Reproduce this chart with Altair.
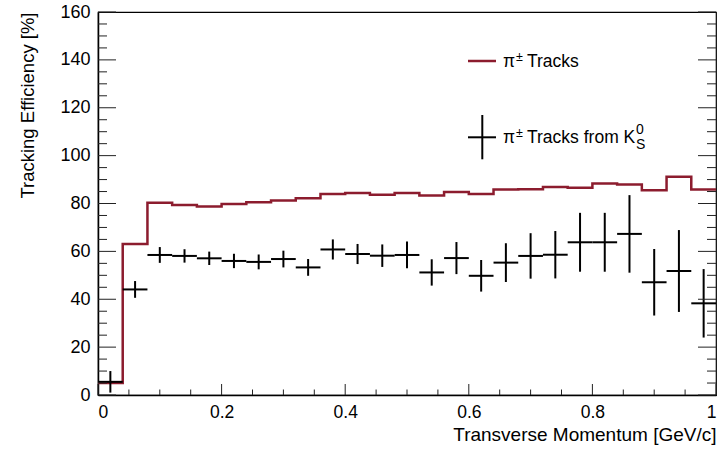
import altair as alt
import pandas as pd

# ---- data ----
bin_lo = [0.00, 0.04, 0.08, 0.12, 0.16, 0.20, 0.24, 0.28, 0.32, 0.36, 0.40, 0.44, 0.48,
          0.52, 0.56, 0.60, 0.64, 0.68, 0.72, 0.76, 0.80, 0.84, 0.88, 0.92, 0.96]
bin_hi = [0.04, 0.08, 0.12, 0.16, 0.20, 0.24, 0.28, 0.32, 0.36, 0.40, 0.44, 0.48, 0.52,
          0.56, 0.60, 0.64, 0.68, 0.72, 0.76, 0.80, 0.84, 0.88, 0.92, 0.96, 1.00]
bin_center = [0.02, 0.06, 0.10, 0.14, 0.18, 0.22, 0.26, 0.30, 0.34, 0.38, 0.42, 0.46, 0.50,
              0.54, 0.58, 0.62, 0.66, 0.70, 0.74, 0.78, 0.82, 0.86, 0.90, 0.94, 0.98]
pion_eff = [5.0, 63.1, 80.3, 79.4, 78.7, 79.8, 80.5, 81.3, 82.2, 84.0, 84.4, 83.7, 84.4,
            83.3, 84.8, 84.0, 85.8, 86.0, 86.9, 86.6, 88.4, 87.9, 85.5, 91.2, 85.9]
k0_eff = [5.5, 44.1, 58.5, 58.1, 57.1, 56.0, 55.6, 56.8, 53.3, 60.8, 58.9, 58.2, 58.5,
          51.2, 57.2, 49.8, 55.3, 58.1, 58.6, 63.8, 63.8, 67.3, 47.1, 51.8, 38.3]
k0_err = [4.5, 3.5, 3.3, 2.8, 2.8, 3.0, 3.1, 3.5, 3.5, 4.2, 4.2, 4.7, 5.6,
          5.5, 6.7, 6.6, 8.1, 9.5, 9.9, 12.3, 12.3, 16.2, 13.9, 17.1, 14.3]

x_major = [0, 0.2, 0.4, 0.6, 0.8, 1.0]
x_minor = [v / 100 for v in range(5, 100, 5) if v % 20 != 0]
y_major = [0, 20, 40, 60, 80, 100, 120, 140, 160]
y_minor = [v for v in range(5, 160, 5) if v % 20 != 0]

W, H = 618, 383
RED = "#8c1c2e"
FONT = "Liberation Sans"

step_df = pd.DataFrame({"x": bin_lo + [bin_hi[-1]], "y": pion_eff + [pion_eff[-1]]})
pts_df = pd.DataFrame({
    "lo": bin_lo, "hi": bin_hi, "c": bin_center, "y": k0_eff,
    "ylo": [max(0.0, a - b) for a, b in zip(k0_eff, k0_err)],
    "yhi": [a + b for a, b in zip(k0_eff, k0_err)],
})

xs = alt.Scale(domain=[0, 1], nice=False, zero=False)
ys = alt.Scale(domain=[0, 160], nice=False, zero=False)

xaxis = alt.Axis(values=x_major, format="~g", tickSize=0, labelPadding=8, grid=False,
                 labelFontSize=17.5, titleFontSize=19,
                 title="Transverse Momentum [GeV/c]", titleAnchor="end", titleAlign="right",
                 titleX=W, titleY=45, titleBaseline="alphabetic")
yaxis = alt.Axis(values=y_major, format="d", tickSize=0, labelPadding=8, grid=False,
                 labelFontSize=18, titleFontSize=18.5,
                 title="Tracking Efficiency [%]", titleAngle=270, titleAnchor="end",
                 titleAlign="right", titleBaseline="alphabetic", titleX=-65, titleY=0)

hist = alt.Chart(step_df).mark_line(interpolate="step-after", color=RED, strokeWidth=2.5,
                                    clip=True).encode(
    x=alt.X("x:Q", scale=xs, axis=xaxis),
    y=alt.Y("y:Q", scale=ys, axis=yaxis),
)

hbar = alt.Chart(pts_df).mark_rule(color="black", strokeWidth=2).encode(
    x=alt.X("lo:Q", scale=xs), x2="hi:Q", y=alt.Y("y:Q", scale=ys))
vbar = alt.Chart(pts_df).mark_rule(color="black", strokeWidth=2).encode(
    x=alt.X("c:Q", scale=xs), y=alt.Y("ylo:Q", scale=ys), y2="yhi:Q")

tick_color = "#222222"
ymaj_df = pd.DataFrame({"v": y_major})
ymin_df = pd.DataFrame({"v": y_minor})
xmaj_df = pd.DataFrame({"v": x_major})
xmin_df = pd.DataFrame({"v": x_minor})

def yt(df, x0, x1):
    return alt.Chart(df).mark_rule(color=tick_color, strokeWidth=1).encode(
        y=alt.Y("v:Q", scale=ys), x=alt.value(x0), x2=alt.value(x1))

def xt(df, y0, y1):
    return alt.Chart(df).mark_rule(color=tick_color, strokeWidth=1).encode(
        x=alt.X("v:Q", scale=xs), y=alt.value(y0), y2=alt.value(y1))

ticks = [
    yt(ymaj_df, 0, 18), yt(ymin_df, 0, 9),
    yt(ymaj_df, W - 18, W), yt(ymin_df, W - 9, W),
    xt(xmaj_df, H - 11, H), xt(xmin_df, H - 5.5, H),
]

one = pd.DataFrame({"a": [0]})

def txt(s, x, y, size=17.5):
    return alt.Chart(one).mark_text(text=s, font=FONT, fontSize=size, color="black",
                                    align="left", baseline="alphabetic").encode(
        x=alt.value(x), y=alt.value(y))

leg = [
    alt.Chart(one).mark_rule(color=RED, strokeWidth=2.5).encode(
        x=alt.value(370), x2=alt.value(398), y=alt.value(49)),
    txt("π", 405, 55.3), txt("±", 418, 48.5, 12.5), txt("Tracks", 429, 55.3),
    alt.Chart(one).mark_rule(color="black", strokeWidth=2).encode(
        x=alt.value(370), x2=alt.value(398), y=alt.value(125.3)),
    alt.Chart(one).mark_rule(color="black", strokeWidth=2).encode(
        x=alt.value(384.3), y=alt.value(103), y2=alt.value(147.3)),
    txt("π", 405, 131.3), txt("±", 418, 124.5, 12.5), txt("Tracks from K", 429, 131.3),
    txt("0", 538, 122, 14), txt("S", 538, 136.5, 14),
]

chart = alt.layer(hist, hbar, vbar, *ticks, *leg).properties(
    width=W, height=H,
    padding={"left": 98, "top": 12, "right": 4, "bottom": 55},
    autosize=alt.AutoSizeParams(type="none"),
).configure_view(stroke="black", strokeWidth=1.2).configure_axis(
    labelFont=FONT, titleFont=FONT,
    labelColor="black", titleColor="black", titleFontWeight="normal",
    domainColor="black", domainWidth=1.5,
)

chart.save("out.html", embed_options={"renderer": "svg", "actions": False})
